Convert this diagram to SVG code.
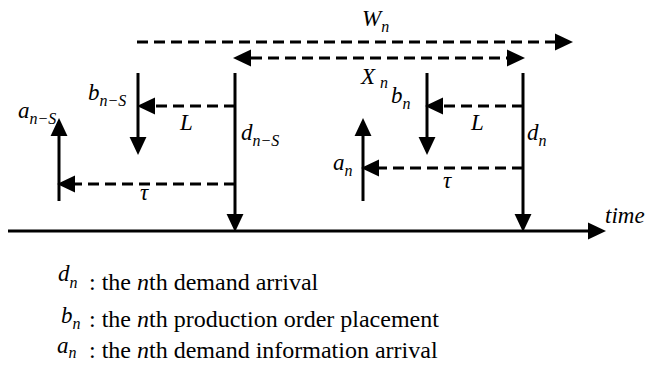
<svg xmlns="http://www.w3.org/2000/svg" width="646" height="374" viewBox="0 0 646 374">
<style>
.s{stroke:#000;stroke-width:3;fill:none}
.d{stroke:#000;stroke-width:3;fill:none;stroke-dasharray:11 6}
.v{font-style:italic;font-size:23px;fill:#000}
.sub{font-size:16px}
.t{font-size:24px;fill:#000}
.i{font-style:italic}
</style>
<defs>
<marker id="ah" markerUnits="userSpaceOnUse" markerWidth="18" markerHeight="18" viewBox="0 -8 16 16" refX="0" refY="0" orient="auto-start-reverse">
<path d="M0,-7.5 L16,0 L0,7.5 Z" fill="#000"/>
</marker>
</defs>
<rect width="646" height="374" fill="#fff"/>
<g id="connectors">
<line id="time-axis" class="s" x1="8" y1="231" x2="588" y2="231" marker-end="url(#ah)"/>
<line id="W" class="d" x1="137" y1="42" x2="555" y2="42" marker-end="url(#ah)"/>
<line id="X" class="d" x1="251" y1="58" x2="507" y2="58" marker-start="url(#ah)" marker-end="url(#ah)"/>
<line id="d-nS" class="s" x1="235" y1="73" x2="235" y2="214" marker-end="url(#ah)"/>
<line id="b-nS" class="s" x1="138" y1="73" x2="138" y2="137" marker-end="url(#ah)"/>
<line id="L-left" class="d" x1="235" y1="106" x2="155" y2="106" marker-end="url(#ah)"/>
<line id="a-nS" class="s" x1="59" y1="201" x2="59" y2="136" marker-end="url(#ah)"/>
<line id="tau-left" class="d" x1="235" y1="184" x2="75" y2="184" marker-end="url(#ah)"/>
<line id="d-n" class="s" x1="523" y1="73" x2="523" y2="214" marker-end="url(#ah)"/>
<line id="b-n" class="s" x1="427" y1="73" x2="427" y2="137" marker-end="url(#ah)"/>
<line id="L-right" class="d" x1="523" y1="106" x2="443" y2="106" marker-end="url(#ah)"/>
<line id="a-n" class="s" x1="363" y1="201" x2="363" y2="136" marker-end="url(#ah)"/>
<line id="tau-right" class="d" x1="523" y1="168" x2="379" y2="168" marker-end="url(#ah)"/>
</g>
<g id="labels" font-family="Liberation Serif, Times New Roman, serif">
<g id="lbl-W"><text class="v" x="362" y="26">W<tspan class="sub" dy="6">n</tspan></text></g>
<g id="lbl-X"><text class="v" x="361" y="84">X<tspan class="sub" dx="5" dy="4">n</tspan></text></g>
<g id="lbl-bnS"><text class="v" x="88" y="100">b<tspan class="sub" dy="6">n−S</tspan></text></g>
<g id="lbl-anS"><text class="v" x="18" y="118">a<tspan class="sub" dy="6">n−S</tspan></text></g>
<g id="lbl-dnS"><text class="v" x="241" y="140">d<tspan class="sub" dy="6">n−S</tspan></text></g>
<g id="lbl-L1"><text class="v" x="180" y="130">L</text></g>
<g id="lbl-tau1"><text class="v" x="140" y="200">τ</text></g>
<g id="lbl-bn"><text class="v" x="391" y="103">b<tspan class="sub" dy="6">n</tspan></text></g>
<g id="lbl-L2"><text class="v" x="471" y="130">L</text></g>
<g id="lbl-dn"><text class="v" x="527" y="140">d<tspan class="sub" dy="6">n</tspan></text></g>
<g id="lbl-an"><text class="v" x="333" y="170">a<tspan class="sub" dy="6">n</tspan></text></g>
<g id="lbl-tau2"><text class="v" x="443" y="188">τ</text></g>
<g id="lbl-time"><text class="v" x="605" y="223" font-size="22">time</text></g>
</g>
<g id="legend" font-family="Liberation Serif, Times New Roman, serif">
<g id="leg-d"><text class="v" x="58" y="281" font-size="24">d<tspan class="sub" dy="7">n</tspan></text><text class="t" x="89" y="290">: the <tspan class="i">n</tspan>th demand arrival</text></g>
<g id="leg-b"><text class="v" x="61" y="323" font-size="24">b<tspan class="sub" dy="6">n</tspan></text><text class="t" x="89" y="327">: the <tspan class="i">n</tspan>th production order placement</text></g>
<g id="leg-a"><text class="v" x="57" y="353" font-size="24">a<tspan class="sub" dy="5">n</tspan></text><text class="t" x="89" y="358">: the <tspan class="i">n</tspan>th demand information arrival</text></g>
</g>
</svg>
